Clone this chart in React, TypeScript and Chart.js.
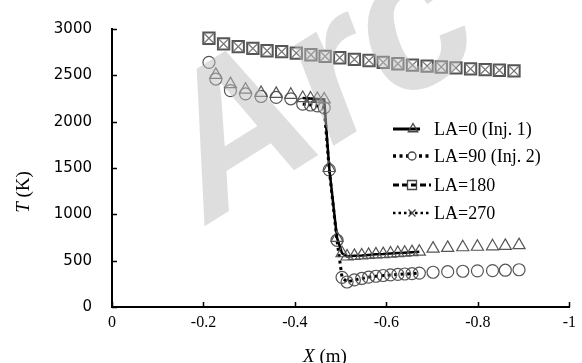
import React, { useEffect, useRef } from 'react';
import { Chart, registerables } from 'chart.js';

Chart.register(...registerables);

// Axis ticks
const xTicks = [0, -0.2, -0.4, -0.6, -0.8, -1];
const yTicks = [0, 500, 1000, 1500, 2000, 2500, 3000];

const seriesLabels = ['LA=0 (Inj. 1)', 'LA=90 (Inj. 2)', 'LA=180', 'LA=270'];

// LA=0 (injector 1 side): position X (m) and temperature T (K)
const xLA0 = [
  -0.227, -0.259, -0.292, -0.326, -0.359, -0.391,
  -0.417, -0.434, -0.449, -0.464, -0.475, -0.492, -0.503,
  -0.514, -0.53, -0.546, -0.561, -0.577, -0.593, -0.609, -0.625, -0.64, -0.656, -0.672,
  -0.702, -0.734, -0.767, -0.799, -0.832, -0.86, -0.89,
];
const tLA0 = [
  2505, 2405, 2345, 2310, 2300, 2290,
  2255, 2250, 2245, 2240, 1500, 745, 580,
  545, 552, 556, 562, 568, 571, 577, 582, 586, 592, 597,
  630, 638, 645, 650, 655, 660, 668,
];

// LA=90 (injector 2 side)
const xLA90 = [
  -0.212, -0.227, -0.259, -0.292, -0.326, -0.359, -0.391,
  -0.417, -0.434, -0.449, -0.464, -0.475, -0.492, -0.503,
  -0.514, -0.53, -0.546, -0.561, -0.577, -0.593, -0.609, -0.625, -0.64, -0.656, -0.672,
  -0.702, -0.734, -0.767, -0.799, -0.832, -0.86, -0.89,
];
const tLA90 = [
  2640, 2460, 2335, 2300, 2272, 2262, 2247,
  2190, 2180, 2170, 2150, 1480, 720, 320,
  270, 292, 308, 322, 332, 340, 346, 352, 356, 360, 366,
  375, 381, 386, 390, 393, 397, 402,
];

// LA=180 and LA=270 (away from the injectors)
const xLA180 = [
  -0.212, -0.244, -0.276, -0.308, -0.339, -0.371, -0.403, -0.435, -0.466, -0.498, -0.53,
  -0.562, -0.593, -0.625, -0.657, -0.689, -0.72, -0.752, -0.784, -0.816, -0.847, -0.879,
];
const tLA180 = [
  2900, 2840, 2810, 2790, 2765, 2755, 2740, 2722, 2705, 2690, 2672,
  2660, 2640, 2625, 2610, 2600, 2590, 2580, 2570, 2562, 2555, 2548,
];
const xLA270 = [
  -0.212, -0.244, -0.276, -0.308, -0.339, -0.371, -0.403, -0.435, -0.466, -0.498, -0.53,
  -0.562, -0.593, -0.625, -0.657, -0.689, -0.72, -0.752, -0.784, -0.816, -0.847, -0.879,
];
const tLA270 = [
  2900, 2840, 2810, 2790, 2765, 2755, 2740, 2722, 2705, 2690, 2672,
  2660, 2640, 2625, 2610, 2600, 2590, 2580, 2570, 2562, 2555, 2548,
];

// Finely resolved band of X where the profile is drawn as a continuous line
const fineZone = [-0.68, -0.41];

const toPoints = (xs: number[], ys: number[]) => xs.map((x, i) => ({ x, y: ys[i] }));
const inFine = (x: number) => x >= fineZone[0] && x <= fineZone[1];
const fineSegment = (ctx: any) =>
  inFine(ctx.p0.parsed.x) && inFine(ctx.p1.parsed.x) ? undefined : 'rgba(0,0,0,0)';

const fmtTick = (v: number) => (Math.abs(v) < 1e-9 ? '0' : String(Number(v.toFixed(1))));

const SERIF = '"Liberation Serif", "Times New Roman", serif';
const SANS = '"DejaVu Sans", Verdana, sans-serif';

function markerPath(ctx: CanvasRenderingContext2D, style: string, x: number, y: number, r: number) {
  ctx.beginPath();
  if (style === 'triangle') {
    ctx.moveTo(x, y - r);
    ctx.lineTo(x + r * 0.866, y + r * 0.5);
    ctx.lineTo(x - r * 0.866, y + r * 0.5);
    ctx.closePath();
  } else if (style === 'circle') {
    ctx.arc(x, y, r, 0, Math.PI * 2);
  } else if (style === 'rect') {
    ctx.rect(x - r, y - r, r * 2, r * 2);
  } else if (style === 'crossRot') {
    ctx.moveTo(x - r, y - r);
    ctx.lineTo(x + r, y + r);
    ctx.moveTo(x + r, y - r);
    ctx.lineTo(x - r, y + r);
  }
}

const decorations = {
  id: 'decorations',
  afterDatasetsDraw(chart: any) {
    // light diagonal lettering across the plot
    const ctx: CanvasRenderingContext2D = chart.ctx;
    ctx.save();
    ctx.translate(208, 224);
    ctx.rotate((-32 * Math.PI) / 180);
    ctx.font = 'italic bold 200px "Liberation Sans", Arial, sans-serif';
    ctx.fillStyle = 'rgba(190,190,190,0.5)';
    ctx.textBaseline = 'alphabetic';
    ctx.fillText('Arc', 0, 0);
    ctx.restore();
  },
  afterDraw(chart: any) {
    const ctx: CanvasRenderingContext2D = chart.ctx;
    const { left, bottom } = chart.chartArea;
    const xs = chart.scales.x;
    const ys = chart.scales.y;
    ctx.save();

    // inward tick marks
    ctx.strokeStyle = '#000';
    ctx.lineWidth = 1.5;
    ctx.beginPath();
    ys.ticks.forEach((t: any) => {
      const py = Math.round(ys.getPixelForValue(t.value)) + 0.5;
      ctx.moveTo(left, py);
      ctx.lineTo(left + 5, py);
    });
    xs.ticks.forEach((t: any) => {
      const px = Math.round(xs.getPixelForValue(t.value)) + 0.5;
      ctx.moveTo(px, bottom);
      ctx.lineTo(px, bottom - 5);
    });
    ctx.stroke();

    // axis titles with italic symbols
    ctx.fillStyle = '#000';
    ctx.textBaseline = 'alphabetic';
    const drawTitle = (sym: string, unit: string, cx: number, baseY: number) => {
      ctx.font = `italic 19px ${SERIF}`;
      const w1 = ctx.measureText(sym).width;
      ctx.font = `19px ${SERIF}`;
      const w2 = ctx.measureText(unit).width;
      const x0 = cx - (w1 + w2) / 2;
      ctx.font = `italic 19px ${SERIF}`;
      ctx.textAlign = 'left';
      ctx.fillText(sym, x0, baseY);
      ctx.font = `19px ${SERIF}`;
      ctx.fillText(unit, x0 + w1, baseY);
    };
    drawTitle('X', ' (m)', 325, 362);
    ctx.save();
    ctx.translate(29, 192);
    ctx.rotate(-Math.PI / 2);
    drawTitle('T', ' (K)', 0, 0);
    ctx.restore();

    // legend inside the plot
    const rows = [129, 156, 185, 213];
    chart.data.datasets.forEach((ds: any, i: number) => {
      const y = rows[i];
      const x1 = 393;
      const x2 = i === 0 ? 420 : 431;
      ctx.save();
      ctx.strokeStyle = '#000';
      ctx.lineWidth = ds.legendLineWidth;
      ctx.setLineDash(ds.borderDash || []);
      ctx.beginPath();
      ctx.moveTo(x1, y);
      ctx.lineTo(x2, y);
      ctx.stroke();
      ctx.setLineDash([]);
      ctx.lineWidth = 1.3;
      ctx.strokeStyle = '#444';
      markerPath(ctx, ds.pointStyle, i === 0 ? 413 : 412, y, ds.legendMarkerSize);
      if (ds.pointStyle === 'circle') {
        ctx.fillStyle = '#fff';
        ctx.fill();
      }
      ctx.stroke();
      ctx.restore();
      ctx.fillStyle = '#000';
      ctx.font = `18px ${SERIF}`;
      ctx.textAlign = 'left';
      ctx.textBaseline = 'middle';
      ctx.fillText(ds.label, 434, y + 1);
    });

    ctx.restore();
  },
};

export default function App() {
  const canvasRef = useRef<HTMLCanvasElement | null>(null);

  useEffect(() => {
    const canvas = canvasRef.current;
    if (!canvas) return;
    const markerGray = '#555';
    const chart = new Chart(canvas, {
      type: 'scatter',
      data: {
        datasets: [
          {
            label: seriesLabels[0],
            data: toPoints(xLA0, tLA0),
            showLine: true,
            borderColor: '#000',
            borderWidth: 2.5,
            borderDash: [],
            segment: { borderColor: fineSegment },
            pointStyle: 'triangle',
            pointRadius: 7,
            pointBorderColor: markerGray,
            pointBackgroundColor: 'rgba(0,0,0,0)',
            pointBorderWidth: 1.2,
            order: 3,
            legendLineWidth: 3,
            legendMarkerSize: 5.5,
          } as any,
          {
            label: seriesLabels[1],
            data: toPoints(xLA90, tLA90),
            showLine: true,
            borderColor: '#000',
            borderWidth: 3,
            borderDash: [3, 3.5],
            segment: { borderColor: fineSegment },
            pointStyle: 'circle',
            pointRadius: 6,
            pointBorderColor: markerGray,
            pointBackgroundColor: 'rgba(0,0,0,0)',
            pointBorderWidth: 1.2,
            order: 4,
            legendLineWidth: 3.5,
            legendMarkerSize: 4,
          } as any,
          {
            label: seriesLabels[2],
            data: toPoints(xLA180, tLA180),
            showLine: false,
            borderColor: '#000',
            borderWidth: 2.5,
            borderDash: [6, 3],
            pointStyle: 'rect',
            pointRadius: 8,
            pointBorderColor: markerGray,
            pointBackgroundColor: 'rgba(0,0,0,0)',
            pointBorderWidth: 2,
            order: 2,
            legendLineWidth: 3,
            legendMarkerSize: 4.5,
          } as any,
          {
            label: seriesLabels[3],
            data: toPoints(xLA270, tLA270),
            showLine: false,
            borderColor: '#000',
            borderWidth: 2.5,
            borderDash: [2.5, 3],
            pointStyle: 'crossRot',
            pointRadius: 7,
            pointBorderColor: '#777',
            pointBackgroundColor: 'rgba(0,0,0,0)',
            pointBorderWidth: 1.3,
            order: 1,
            legendLineWidth: 2.5,
            legendMarkerSize: 3.5,
          } as any,
        ],
      },
      options: {
        animation: false,
        responsive: false,
        devicePixelRatio: 1,
        layout: { padding: { top: 24, right: 7, left: 0, bottom: 0 } },
        plugins: { legend: { display: false }, tooltip: { enabled: false } },
        scales: {
          x: {
            type: 'linear',
            min: -1,
            max: 0,
            reverse: true,
            afterFit: (s: any) => {
              s.height = 56;
            },
            afterBuildTicks: (s: any) => {
              s.ticks = xTicks.map((v) => ({ value: v }));
            },
            ticks: {
              padding: 6,
              color: '#000',
              font: { family: SERIF, size: 16 },
              maxRotation: 0,
              autoSkip: false,
              callback: (v: any) => fmtTick(Number(v)),
            },
            grid: { display: false, drawTicks: false },
            border: { display: true, color: '#000', width: 2 },
          },
          y: {
            type: 'linear',
            min: 0,
            max: 3000,
            afterFit: (s: any) => {
              s.width = 112;
            },
            afterBuildTicks: (s: any) => {
              s.ticks = yTicks.map((v) => ({ value: v }));
            },
            ticks: {
              padding: 20,
              color: '#000',
              font: { family: SANS, size: 15 },
              autoSkip: false,
              callback: (v: any) => String(v),
            },
            grid: { display: false, drawTicks: false },
            border: { display: true, color: '#000', width: 2 },
          },
        },
      } as any,
      plugins: [decorations],
    });
    return () => chart.destroy();
  }, []);

  return (
    <div style={{ position: 'absolute', left: 0, top: 0, width: 582, height: 363, background: '#fff' }}>
      <canvas ref={canvasRef} width={582} height={363} style={{ display: 'block' }} />
    </div>
  );
}
